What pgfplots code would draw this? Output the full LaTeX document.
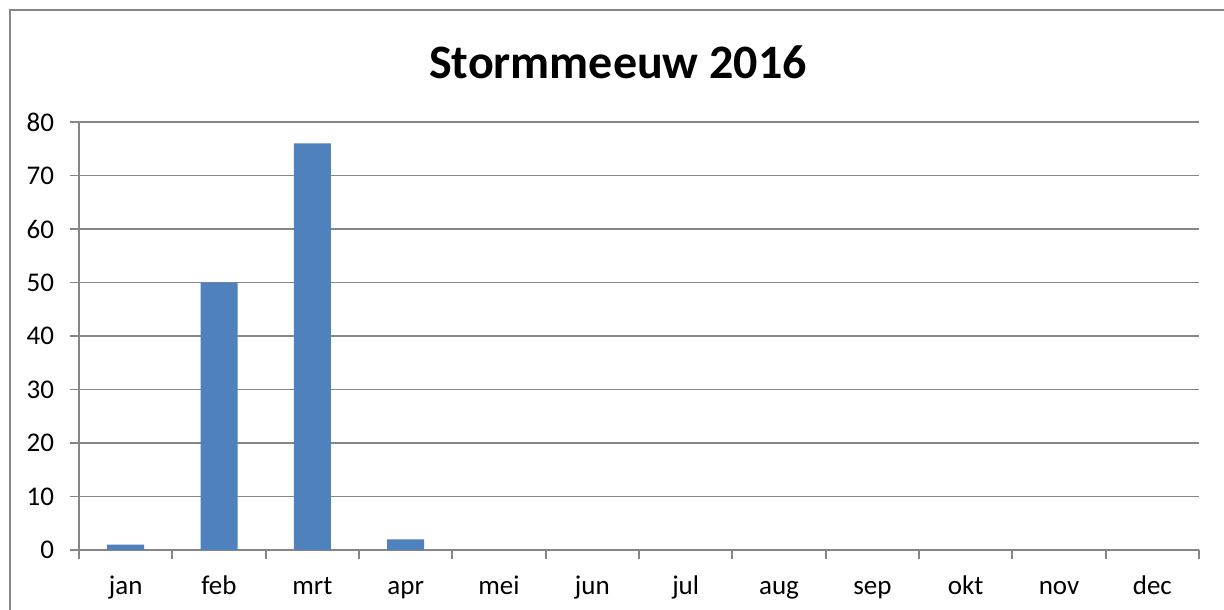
\documentclass[border=0pt]{standalone}
\usepackage{fontspec}
\setmainfont{Carlito}
\usepackage{pgfplots}
\pgfplotsset{compat=1.18}
\definecolor{barblue}{HTML}{4F81BD}
\definecolor{gridgray}{HTML}{868686}
\begin{document}
\begin{tikzpicture}
\useasboundingbox (0,0) rectangle (612bp,305bp);
\fill[white] (0,0) rectangle (612bp,305bp);
\draw[gridgray, line width=0.9bp] (5bp,-2bp) -- (5bp,300bp) -- (614bp,300bp);
\node[anchor=base, font=\fontsize{24bp}{28bp}\selectfont\bfseries] at (309bp,265.6bp) {Stormmeeuw 2016};
\begin{axis}[
  at={(39.5bp,30bp)}, anchor=south west,
  width=560bp, height=214bp, scale only axis,
  xmin=-0.5, xmax=11.5, ymin=0, ymax=80,
  axis x line*=bottom, axis y line*=left,
  axis line style={gridgray, line width=0.9bp, -},
  xtick={-0.5,0.5,...,11.5},
  xticklabels={jan,feb,mrt,apr,mei,jun,jul,aug,sep,okt,nov,dec},
  x tick label as interval,
  xticklabel style={text height=1.6ex, text depth=0.5ex, yshift=-6.5bp},
  yticklabel style={xshift=-4.5bp},
  ytick={0,10,...,80},
  ymajorgrids,
  grid style={gridgray, line width=0.9bp},
  tick align=outside,
  major tick length=4.5bp,
  tick style={gridgray, line width=0.9bp},
  tick label style={font=\fontsize{13.5bp}{16bp}\selectfont},
  /pgf/number format/assume math mode=true,
  ybar, bar width=18.5bp, bar shift=0pt,
]
\addplot[fill=barblue, draw=none] coordinates {
(0,1) (1,50) (2,76) (3,2) (4,0) (5,0) (6,0) (7,0) (8,0) (9,0) (10,0) (11,0)
};
\end{axis}
\end{tikzpicture}
\end{document}
